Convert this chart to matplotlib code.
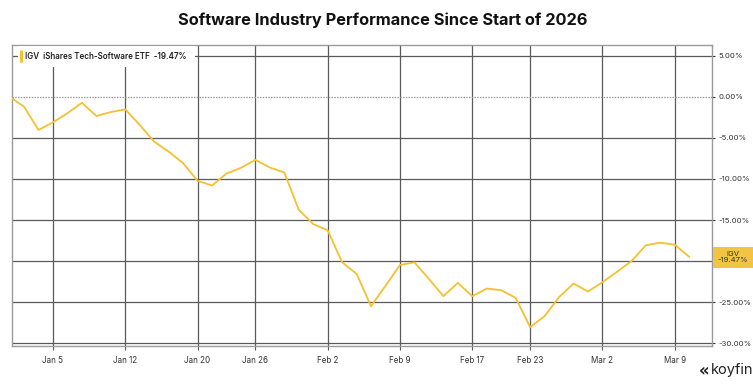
import matplotlib
matplotlib.use("Agg")
import matplotlib.pyplot as plt
from matplotlib.patches import Rectangle

# Trading-day index (0 = Jan 2, 2026); -2 = Dec 30, -1 = Dec 31
day_index = list(range(-2, 46))
igv_pct = [0.0, -1.21, -4.04, -3.11, -2.0, -0.73, -2.34, -1.86, -1.53, -3.43,
           -5.46, -6.67, -8.08, -10.23, -10.80, -9.34, -8.65, -7.68, -8.61, -9.22,
           -13.75, -15.49, -16.26, -20.15, -21.55, -25.49, -23.0, -20.47, -20.15, -22.17,
           -24.27, -22.65, -24.27, -23.34, -23.54, -24.47, -28.03, -26.70, -24.39, -22.73,
           -23.70, -22.57, -21.31, -20.02, -18.08, -17.76, -18.0, -19.47]
tick_index = [1, 6, 11, 15, 20, 25, 30, 34, 39, 44]
tick_labels = ["Jan 5", "Jan 12", "Jan 20", "Jan 26", "Feb 2", "Feb 9", "Feb 17", "Feb 23", "Mar 2", "Mar 9"]
y_ticks = [5, 0, -5, -10, -15, -20, -25, -30]
last_value = -19.47

plt.rcParams['font.family'] = ['Inter', 'DejaVu Sans']
YEL = "#F4C12F"
GRID = "#5a5a5a"
TXT = "#333333"

fig = plt.figure(figsize=(7.53, 3.84), dpi=100)
ax = fig.add_axes([12/753, 1-346/384, 700/753, 301/384])
ax.set_xlim(-1.833, 46.58)
ax.set_ylim(-30.33, 6.3)

for t in tick_index:
    ax.axvline(t, color=GRID, lw=0.9, zorder=1)
for v in y_ticks:
    if v == 0:
        ax.axhline(v, color="#999999", lw=0.9, ls=(0, (1.2, 1.0)), zorder=1)
    else:
        ax.axhline(v, color=GRID, lw=0.9, zorder=1)

ax.plot(day_index, igv_pct, color=YEL, lw=1.3, zorder=3)

for s in ax.spines.values():
    s.set_color("#9a9a9a")
    s.set_linewidth(1.0)

ax.yaxis.tick_right()
ax.set_yticks(y_ticks)
ax.set_yticklabels([f"{v:.2f}%" for v in y_ticks], fontsize=5.6, color=TXT)
ax.tick_params(axis='y', length=2.5, width=0.8, color="#333333", pad=2.5)
ax.set_xticks(tick_index)
ax.set_xticklabels(tick_labels, fontsize=5.8, color=TXT)
ax.tick_params(axis='x', length=3, width=0.8, color=GRID, pad=4)

for lbl, v in zip(ax.get_yticklabels(), y_ticks):
    if v == -20:
        lbl.set_visible(False)

# legend box (axes coords)
def px_to_ax(x, y):
    return ((x - 12) / 700, (346 - y) / 301)

x0, y0 = px_to_ax(18, 67)
ax.add_patch(Rectangle((x0, y0), 177/700, 21/301, transform=ax.transAxes,
                       facecolor="white", edgecolor="none", zorder=4, clip_on=False))
bx, by0 = px_to_ax(20.5, 62)
_, by1 = px_to_ax(20.5, 50)
ax.plot([bx, bx], [by0, by1], transform=ax.transAxes, color=YEL, lw=2.2, zorder=5,
        solid_capstyle='butt', clip_on=False)
tx, ty = px_to_ax(25, 56.5)
ax.text(tx, ty, f"IGV  iShares Tech-Software ETF  {last_value:.2f}%", fontsize=5.8,
        fontweight='semibold', color="#222222", va='center', ha='left', transform=ax.transAxes, zorder=6)

# value tag on right axis
fig.patches.append(Rectangle((713/753, 1-267.5/384), 40/753, 20.5/384, transform=fig.transFigure,
                             facecolor="#F2C443", edgecolor="none", zorder=5))
fig.text(733/753, 1-257.5/384, f"IGV\n{last_value:.2f}%", fontsize=5.5, color="#333333",
         ha='center', va='center', linespacing=1.0, zorder=6)

fig.text(383/753, 1-20/384, "Software Industry Performance Since Start of 2026", fontsize=11.8,
         fontweight='bold', color="#111111", ha='center', va='center')

fig.text(699/753, 1-371/384, "\u00ab", fontsize=12, fontweight='bold', color="#222222", ha='left', va='center',
         family='DejaVu Sans')
fig.text(711/753, 1-370/384, "koyfin", fontsize=10.5, color="#222222", ha='left', va='center')

fig.savefig("out.png", dpi=100, facecolor="white")
